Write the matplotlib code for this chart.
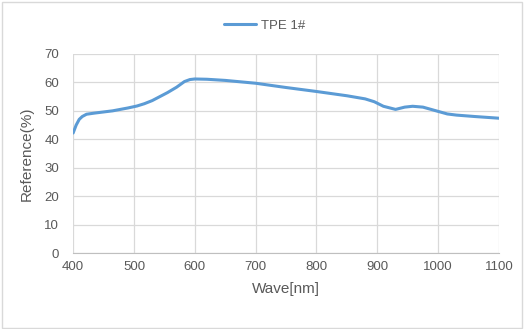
import matplotlib
matplotlib.use("Agg")
import matplotlib.pyplot as plt
from matplotlib.patches import Rectangle

wave = [400, 405, 410, 415, 422, 435, 450, 465, 490, 505, 517, 530, 555, 570, 583, 592,
        600, 620, 650, 700, 750, 800, 850, 880, 895, 910, 930, 945, 958, 975, 1000,
        1015, 1030, 1060, 1100]
refl = [42.2, 45.0, 47.0, 48.0, 48.8, 49.2, 49.6, 50.0, 51.0, 51.7, 52.5, 53.6, 56.4,
        58.3, 60.3, 61.0, 61.2, 61.1, 60.7, 59.7, 58.2, 56.8, 55.3, 54.2, 53.2, 51.6,
        50.5, 51.3, 51.6, 51.3, 49.8, 48.9, 48.5, 48.0, 47.4]
xticks = [400, 500, 600, 700, 800, 900, 1000, 1100]
yticks = [0, 10, 20, 30, 40, 50, 60, 70]

GRAY = "#595959"
plt.rcParams.update({"font.family": ["Liberation Sans", "DejaVu Sans"], "font.size": 9.5})

fig = plt.figure(figsize=(5.3, 3.29), dpi=100)
fig.patch.set_facecolor("white")
fig.patches.append(Rectangle((0.004, 0.003), 0.98, 0.992, transform=fig.transFigure,
                             fill=False, edgecolor="#d9d9d9", lw=1))
ax = fig.add_axes([0.138, 0.231, 0.8035, 0.605])
line, = ax.plot(wave, refl, color="#5b9bd5", lw=2.2, label="TPE 1#",
                solid_capstyle="round", solid_joinstyle="round")
ax.set_xlim(400, 1100); ax.set_ylim(0, 70)
ax.set_xticks(xticks); ax.set_yticks(yticks)
ax.grid(True, color="#d9d9d9", lw=0.9)
ax.set_axisbelow(True)
for s in ["top", "right", "left"]:
    ax.spines[s].set_visible(False)
ax.spines["bottom"].set_color("#bfbfbf")
ax.tick_params(length=0, colors=GRAY, labelsize=9.5, pad=6)
ax.tick_params(axis="y", pad=10)
ax.set_xlabel("Wave[nm]", color=GRAY, fontsize=11, labelpad=6)
ax.set_ylabel("Reference(%)", color=GRAY, fontsize=11, labelpad=8)
leg = fig.legend(handles=[line], loc="center", bbox_to_anchor=(0.5, 0.922), frameon=False,
                 fontsize=9.5, handlelength=2.4, handletextpad=0.4)
for t in leg.get_texts():
    t.set_color(GRAY)
fig.savefig("out.png", dpi=100, facecolor="white")
